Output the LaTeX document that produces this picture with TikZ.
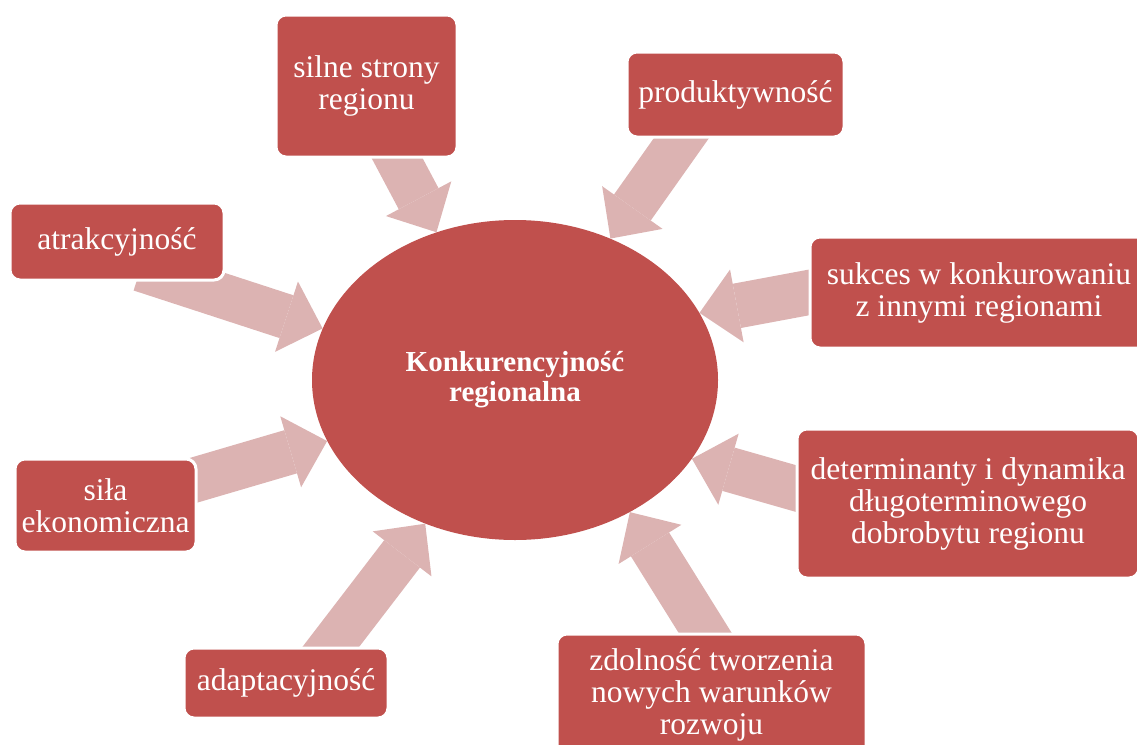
\documentclass[tikz,border=0pt]{standalone}
\usepackage{fontspec}
\setmainfont{Liberation Serif}
\usepackage{tikz}
\usetikzlibrary{arrows.meta,shapes.geometric,backgrounds}
\definecolor{krred}{RGB}{192,80,77}
\definecolor{krpink}{RGB}{220,179,178}
\tikzstyle{feed} = [line width=45pt, color=krpink, shorten <=-40pt, -{Triangle[width=74pt,length=38pt,line width=0pt]}]

\begin{document}
\begin{tikzpicture}[x=1pt, y=-1pt,
    factor/.style={rectangle, rounded corners=10pt, fill=krred, draw=white, line width=3pt, text=white, align=center, inner sep=0pt, font=\fontsize{31.5}{32}\selectfont},
    core/.style={ellipse, fill=krred, text=white, align=center, minimum width=406pt, minimum height=320pt, inner sep=0pt, font=\fontsize{29}{30}\selectfont\bfseries}]

\useasboundingbox (0,0) rectangle (1137,744);

% Central concept
\node[core] (kr) at (515,380) {Konkurencyjność\\regionalna};

% Factors
\node[factor, minimum width=181pt, minimum height=142pt] (silne) at (366.5,86) {silne strony\\regionu};
\node[factor, minimum width=217pt, minimum height=85pt] (prod) at (735.5,94.5) {produktywność};
\node[factor, minimum width=214pt, minimum height=77pt] (atr) at (117,241.5) {atrakcyjność};
\node[factor, minimum width=338pt, minimum height=111pt] (sukces) at (979,292.5) {sukces w konkurowaniu\\z innymi regionami};
\node[factor, minimum width=181pt, minimum height=93pt] (sila) at (105.5,505.5) {siła\\ekonomiczna};
\node[factor, minimum width=342pt, minimum height=149pt] (det) at (968,503.5) {determinanty i dynamika\\długoterminowego\\dobrobytu regionu};
\node[factor, minimum width=204pt, minimum height=70pt] (adapt) at (286,683) {adaptacyjność};
\node[factor, minimum width=309pt, minimum height=122pt] (zdol) at (711.5,695) {zdolność tworzenia\\nowych warunków\\rozwoju};

% Arrows into the centre
\begin{scope}[on background layer]
\draw[feed] (silne.293) -- (kr.118);
\draw[feed] (prod.219) -- (kr.56);
\draw[feed] (atr.327) -- (kr.165);
\draw[feed] (sukces.west) -- (kr.20);
\draw[feed] (sila.16) -- (kr.198);
\draw[feed] (det.175) -- (kr.336);
\draw[feed] (adapt.39) -- (kr.238);
\draw[feed] (zdol.96) -- (kr.311);
\end{scope}
\end{tikzpicture}
\end{document}
